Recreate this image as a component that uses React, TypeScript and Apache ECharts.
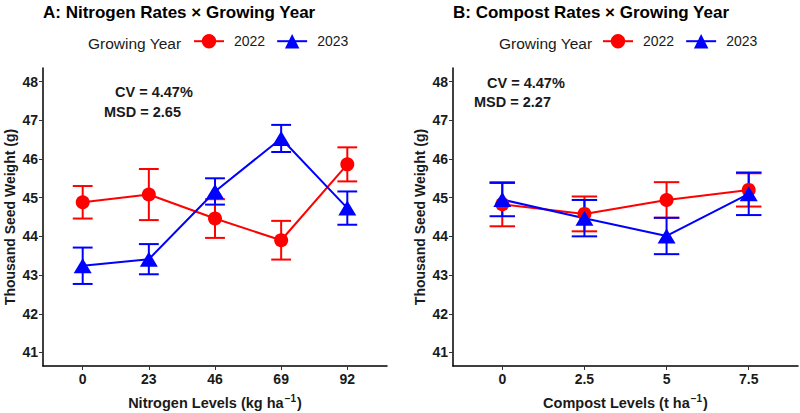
import React, { useEffect, useRef } from "react";
import * as echarts from "echarts";

// Thousand seed weight (g), means ± standard error per growing year
const nitrogenLevels = ["0", "23", "46", "69", "92"];
const nitrogen2022Mean = [44.88, 45.08, 44.46, 43.9, 45.86];
const nitrogen2022Err = [0.42, 0.66, 0.5, 0.5, 0.44];
const nitrogen2023Mean = [43.24, 43.41, 45.16, 46.53, 44.73];
const nitrogen2023Err = [0.47, 0.39, 0.34, 0.35, 0.43];

const compostLevels = ["0", "2.5", "5", "7.5"];
const compost2022Mean = [44.83, 44.58, 44.94, 45.2];
const compost2022Err = [0.57, 0.45, 0.46, 0.43];
const compost2023Mean = [44.95, 44.47, 44.01, 45.1];
const compost2023Err = [0.43, 0.47, 0.47, 0.55];

const yTicks = [41, 42, 43, 44, 45, 46, 47, 48];
const years = ["2022", "2023"];

const FONT = "'Liberation Sans', Arial, Helvetica, sans-serif";
const RED = "#ff0000";
const BLUE = "#0000ff";
const INK = "#1a1a1a";

const pointsOf = (means: number[]) => means.map((m, i) => [i, m]);
const barsOf = (means: number[], errs: number[]) =>
  means.map((m, i) => [i, m, m - errs[i], m + errs[i]]);

function errorBarSeries(
  means: number[],
  errs: number[],
  color: string,
  axis: number,
  capWidth: number
) {
  return {
    type: "custom",
    xAxisIndex: axis,
    yAxisIndex: axis,
    z: 2,
    silent: true,
    encode: { x: 0, y: [1, 2, 3] },
    data: barsOf(means, errs),
    renderItem: (_params: any, api: any) => {
      const x = api.value(0);
      const lo = api.value(2);
      const hi = api.value(3);
      const pLo = api.coord([x, lo]);
      const pHi = api.coord([x, hi]);
      const capL = api.coord([x - capWidth / 2, lo])[0];
      const capR = api.coord([x + capWidth / 2, lo])[0];
      const style = { stroke: color, lineWidth: 2 };
      return {
        type: "group",
        children: [
          { type: "line", shape: { x1: pLo[0], y1: pLo[1], x2: pHi[0], y2: pHi[1] }, style },
          { type: "line", shape: { x1: capL, y1: pHi[1], x2: capR, y2: pHi[1] }, style },
          { type: "line", shape: { x1: capL, y1: pLo[1], x2: capR, y2: pLo[1] }, style },
        ],
      };
    },
  };
}

function lineSeries(
  name: string,
  means: number[],
  color: string,
  axis: number,
  symbol: string,
  symbolSize: number | number[]
) {
  return {
    name,
    type: "line",
    xAxisIndex: axis,
    yAxisIndex: axis,
    z: 3,
    data: pointsOf(means),
    symbol,
    symbolSize,
    showAllSymbol: true,
    lineStyle: { color, width: 2 },
    itemStyle: { color, opacity: 1 },
    emphasis: { disabled: true },
  };
}

function xAxisFor(gridIndex: number, labels: string[], title: string) {
  const ticks = labels.map((_, i) => i);
  return {
    type: "value",
    gridIndex,
    min: -0.6,
    max: labels.length - 1 + 0.6,
    splitLine: { show: false },
    axisLine: { show: true, onZero: false, lineStyle: { color: "#000", width: 1.5 } },
    axisTick: { show: true, length: 4, customValues: ticks, lineStyle: { color: "#333", width: 1 } },
    axisLabel: {
      customValues: ticks,
      formatter: (v: number) => labels[Math.round(v)] ?? "",
      color: INK,
      fontFamily: FONT,
      fontWeight: "bold",
      fontSize: 14,
      margin: 6,
    },
    name: `{t|${title}}{sup|−1}{t|)}`,
    nameLocation: "middle",
    nameGap: 27,
    nameTextStyle: {
      rich: {
        t: { fontFamily: FONT, fontWeight: "bold", fontSize: 14.5, color: INK },
        sup: {
          fontFamily: FONT,
          fontWeight: "bold",
          fontSize: 10,
          color: INK,
          padding: [0, 1, 9, 1],
        },
      },
    },
  };
}

function yAxisFor(gridIndex: number) {
  return {
    type: "value",
    gridIndex,
    min: 40.65,
    max: 48.35,
    splitLine: { show: false },
    axisLine: { show: true, onZero: false, lineStyle: { color: "#000", width: 1.5 } },
    axisTick: { show: true, length: 4, customValues: yTicks, lineStyle: { color: "#333", width: 1 } },
    axisLabel: {
      customValues: yTicks,
      color: INK,
      fontFamily: FONT,
      fontWeight: "bold",
      fontSize: 14,
      margin: 5,
    },
    name: "Thousand Seed Weight (g)",
    nameLocation: "middle",
    nameGap: 26,
    nameTextStyle: { fontFamily: FONT, fontWeight: "bold", fontSize: 14, color: INK },
  };
}

function legendFor(left: number) {
  return {
    data: years,
    left,
    top: 34,
    padding: 0,
    itemWidth: 30,
    itemHeight: 18,
    itemGap: 11,
    selectedMode: false,
    textStyle: { fontFamily: FONT, fontSize: 14, color: INK, padding: [0, 0, 0, 5] },
  };
}

function text(x: number, y: number, str: string, opts: any = {}) {
  return {
    type: "text",
    x,
    y,
    style: {
      text: str,
      fontFamily: FONT,
      fontSize: 14.5,
      fontWeight: "bold",
      fill: INK,
      textVerticalAlign: "middle",
      ...opts,
    },
  };
}

export default function App() {
  const ref = useRef<HTMLDivElement>(null);

  useEffect(() => {
    if (!ref.current) return;
    const chart = echarts.init(ref.current, null, { renderer: "svg" });
    chart.setOption({
      animation: false,
      backgroundColor: "#ffffff",
      grid: [
        { left: 43, top: 68, width: 344, height: 298, containLabel: false, outerBoundsMode: "none" },
        { left: 453, top: 68, width: 345, height: 298, containLabel: false, outerBoundsMode: "none" },
      ],
      xAxis: [
        xAxisFor(0, nitrogenLevels, "Nitrogen Levels (kg ha"),
        xAxisFor(1, compostLevels, "Compost Levels (t ha"),
      ],
      yAxis: [yAxisFor(0), yAxisFor(1)],
      legend: [legendFor(193), legendFor(602)],
      series: [
        errorBarSeries(nitrogen2022Mean, nitrogen2022Err, RED, 0, 0.3),
        errorBarSeries(nitrogen2023Mean, nitrogen2023Err, BLUE, 0, 0.3),
        lineSeries(years[0], nitrogen2022Mean, RED, 0, "circle", 14),
        lineSeries(years[1], nitrogen2023Mean, BLUE, 0, "triangle", [18, 15]),
        errorBarSeries(compost2022Mean, compost2022Err, RED, 1, 0.31),
        errorBarSeries(compost2023Mean, compost2023Err, BLUE, 1, 0.31),
        lineSeries(years[0], compost2022Mean, RED, 1, "circle", 14),
        lineSeries(years[1], compost2023Mean, BLUE, 1, "triangle", [18, 15]),
      ],
      graphic: [
        text(43, 12, "A: Nitrogen Rates × Growing Year", { fontSize: 17, fill: "#000" }),
        text(453, 12, "B: Compost Rates × Growing Year", { fontSize: 17, fill: "#000" }),
        text(88, 43, "Growing Year", { fontSize: 15.5, fontWeight: "normal" }),
        text(499, 43, "Growing Year", { fontSize: 15.5, fontWeight: "normal" }),
        text(115, 92, "CV = 4.47%"),
        text(104, 112, "MSD = 2.65"),
        text(487, 83, "CV = 4.47%"),
        text(474, 102, "MSD = 2.27"),
      ],
    });
    return () => chart.dispose();
  }, []);

  return (
    <div
      ref={ref}
      style={{ position: "fixed", left: 0, top: 0, width: 800, height: 413, background: "#fff" }}
    />
  );
}
